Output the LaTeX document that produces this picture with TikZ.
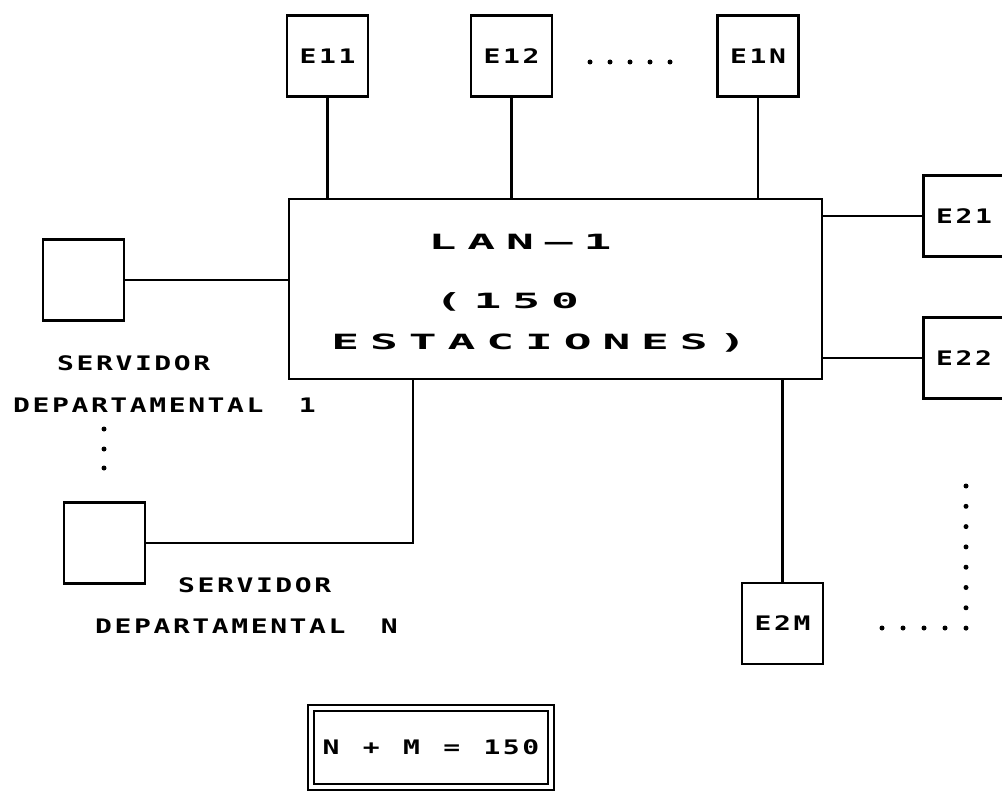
\documentclass[tikz,border=0pt]{standalone}
\usepackage{fontspec}
\usetikzlibrary{positioning}
\newfontfamily\plotfont{DejaVu Sans Mono}[FakeStretch=1.4,LetterSpace=13,WordSpace=1.2]
\newfontfamily\lanfont{DejaVu Sans Mono}[FakeStretch=2.2,LetterSpace=52]
\newcommand{\smallplot}{\plotfont\bfseries\fontsize{20}{24}\selectfont}
\tikzset{
  station/.style={draw, line width=2.6pt, minimum width=81pt, minimum height=81pt,
    inner sep=0pt, font=\smallplot},
  link/.style={line width=2.4pt},
  lbl/.style={inner sep=0pt, anchor=west, font=\smallplot},
  lantxt/.style={inner sep=0pt, font=\lanfont\bfseries\fontsize{21}{24}\selectfont},
}
\begin{document}
\begin{tikzpicture}[x=1pt, y=-1pt]
  \useasboundingbox (0,0) rectangle (1002,792);
  % LAN-1 and its stations
  \node[draw, line width=2.6pt, minimum width=533pt, minimum height=180pt, inner sep=0pt] (lan) at (555.5,289) {};
  \node[lantxt] (lanA) at (520,242) {LAN—1};
  \node[lantxt] (lanB) at (507,302) {(150};
  \node[lantxt] (lanC) at (539,343) {ESTACIONES)};

  \node[station] (e11) at (327.5,56) {E11};
  \node[station] (e12) at (511.5,56) {E12};
  \node[station] (e1n) at (758,56) {E1N};
  \node[station] (e21) at (964,216) {E21};
  \node[station] (e22) at (964,358) {E22};
  \node[station] (e2m) at (782.5,623.5) {E2M};

  \draw[link] (e11) -- (e11 |- lan.north);
  \draw[link] (e12) -- (e12 |- lan.north);
  \draw[link] (e1n) -- (e1n |- lan.north);
  \draw[link] (e21) -- (e21 -| lan.east);
  \draw[link] (e22) -- (e22 -| lan.east);
  \draw[link] (e2m) -- (e2m |- lan.south);

  \foreach \x in {590,610,...,670}
    \fill (\x,62) circle (2.5pt);
  \foreach \i in {0,...,7}
    \fill (966,486+\i*20.3) circle (2.5pt);
  \foreach \x in {882,903,924,945}
    \fill (\x,628) circle (2.5pt);

  % departmental servers
  \node[station] (srv1) at (83.5,280) {};
  \node[station] (srvn) at (104.5,543) {};
  \coordinate (tapn) at (413,380);
  \draw[link] (srv1) -- (srv1 -| lan.west);
  \draw[link] (srvn) -| (tapn);

  \node[lbl] (srv1a) at (57,363) {SERVIDOR};
  \node[lbl] (srv1b) at (13,405) {DEPARTAMENTAL \hspace{12pt}1};
  \foreach \y in {429,449,468}
    \fill (104,\y) circle (2.5pt);
  \node[lbl] (srvna) at (178,585) {SERVIDOR};
  \node[lbl] (srvnb) at (95,626) {DEPARTAMENTAL \hspace{12pt}N};

  \node[draw, double, double distance=3.5pt, line width=2pt, minimum width=240pt,
    minimum height=79pt, inner sep=0pt, font=\smallplot] (sum) at (431,747.5) {N + M = 150};
\end{tikzpicture}
\end{document}
